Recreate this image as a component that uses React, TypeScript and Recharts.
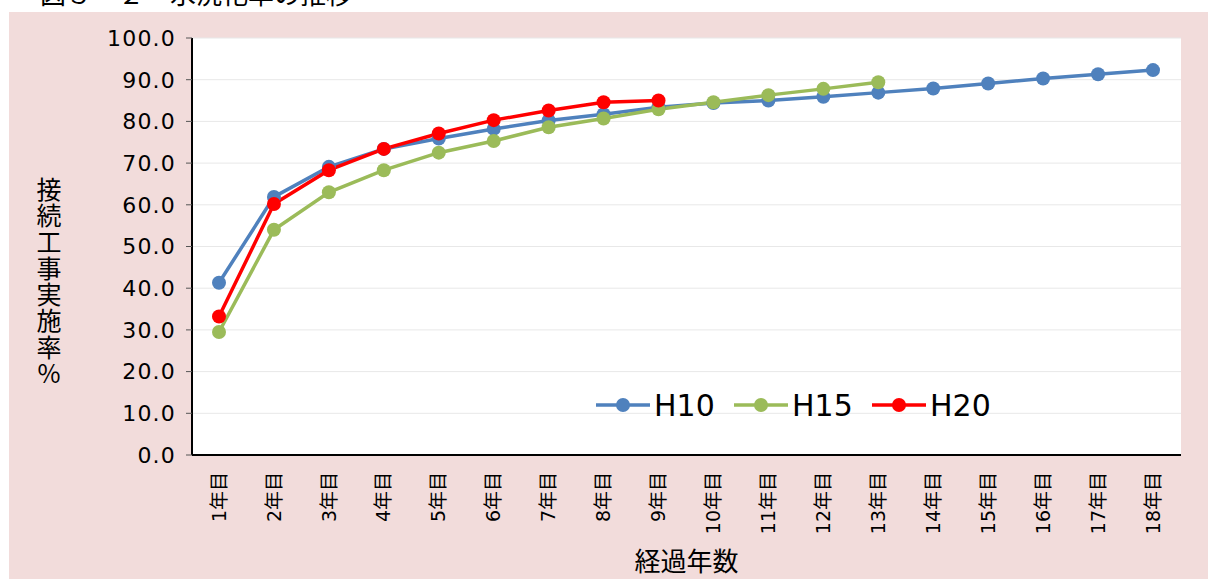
import { LineChart, Line, XAxis, YAxis, CartesianGrid } from "recharts";

const CATEGORIES = [
  "1年目", "2年目", "3年目", "4年目", "5年目", "6年目", "7年目", "8年目", "9年目",
  "10年目", "11年目", "12年目", "13年目", "14年目", "15年目", "16年目", "17年目", "18年目",
];

const H10 = [41.3, 61.9, 69.1, 73.4, 75.9, 78.2, 80.2, 81.7, 83.4, 84.4, 85.0, 85.9, 86.9, 87.9, 89.1, 90.3, 91.3, 92.3];
const H15 = [29.5, 54.0, 63.0, 68.3, 72.5, 75.3, 78.6, 80.7, 82.9, 84.6, 86.3, 87.8, 89.4, null, null, null, null, null];
const H20 = [33.2, 60.2, 68.3, 73.4, 77.1, 80.3, 82.6, 84.6, 85.0, null, null, null, null, null, null, null, null, null];

const Y_TICKS = [0, 10, 20, 30, 40, 50, 60, 70, 80, 90, 100];
const Y_LABEL = "接続工事実施率%";
const X_LABEL = "経過年数";
const TITLE = "図３－２　水洗化率の推移";

const SERIES = [
  { key: "H10", color: "#4f81bd" },
  { key: "H15", color: "#9bbb59" },
  { key: "H20", color: "#ff0000" },
];

const data = CATEGORIES.map((c, i) => ({ name: c, H10: H10[i], H15: H15[i], H20: H20[i] }));

const FONT = "'DejaVu Sans', 'Noto Sans CJK JP', sans-serif";
const CJK = "'Noto Sans CJK JP', sans-serif";

const XTick = (props: any) => {
  const { x, payload } = props;
  return (
    <g transform={`translate(${x},472)`}>
      <text transform="rotate(-90)" textAnchor="end" dy="0.35em" fontSize={19} fill="#000" fontFamily={FONT}>
        {payload.value}
      </text>
    </g>
  );
};

const ChartLegend = () => (
  <svg width={420} height={40} style={{ position: "absolute", left: 596, top: 385 }}>
    {SERIES.map((s, i) => {
      const x0 = i * 138;
      return (
        <g key={s.key}>
          <line x1={x0} x2={x0 + 54} y1={20} y2={20} stroke={s.color} strokeWidth={3.5} />
          <circle cx={x0 + 27} cy={20} r={7} fill={s.color} />
          <text x={x0 + 58} y={20} dy="0.36em" fontSize={30} fill="#000" fontFamily={FONT}>
            {s.key}
          </text>
        </g>
      );
    })}
  </svg>
);

export default function App() {
  return (
    <div style={{ position: "absolute", left: 0, top: 0, width: 1208, height: 579, background: "#fff", overflow: "hidden" }}>
      <div style={{ position: "absolute", left: 9, top: 12, width: 1199, height: 567, background: "#f2dcdb" }} />
      <div style={{ position: "absolute", left: 40, top: -22, fontSize: 26, lineHeight: "30px", fontFamily: CJK, color: "#000", whiteSpace: "nowrap" }}>
        {TITLE}
      </div>
      <div style={{ position: "absolute", left: 0, top: 0 }}>
        <LineChart width={1208} height={579} data={data} margin={{ top: 38, right: 27, left: 0, bottom: 0 }}>
          <CartesianGrid vertical={false} stroke="#e8e8e8" fill="#fff" />
          <XAxis
            dataKey="name"
            height={124}
            padding={{ left: 27, right: 28 }}
            axisLine={{ stroke: "#000", strokeWidth: 2 }}
            tickLine={false}
            interval={0}
            tick={<XTick />}
            label={{ value: X_LABEL, position: "insideBottom", offset: 8, fontSize: 26, fill: "#000", fontFamily: CJK }}
          />
          <YAxis
            width={192}
            domain={[0, 100]}
            ticks={Y_TICKS}
            interval={0}
            tickFormatter={(v: number) => v.toFixed(1)}
            axisLine={{ stroke: "#000", strokeWidth: 2 }}
            tickLine={{ stroke: "#555" }}
            tickSize={6}
            tickMargin={10}
            tick={{ fontSize: 22, fill: "#000", fontFamily: FONT, letterSpacing: 1.2 }}
          />
          {SERIES.map((s) => (
            <Line
              key={s.key}
              type="linear"
              dataKey={s.key}
              stroke={s.color}
              strokeWidth={3.5}
              dot={{ r: 7, fill: s.color, stroke: s.color, strokeWidth: 0 }}
              activeDot={false}
              isAnimationActive={false}
            />
          ))}
        </LineChart>
      </div>
      {/* vertical axis title, upright characters */}
      <div
        style={{
          position: "absolute",
          left: 36,
          top: 177,
          fontSize: 25,
          lineHeight: 1,
          letterSpacing: 1.3,
          fontFamily: CJK,
          color: "#000",
          writingMode: "vertical-rl",
          textOrientation: "upright",
        }}
      >
        {Y_LABEL}
      </div>
      <ChartLegend />
    </div>
  );
}
